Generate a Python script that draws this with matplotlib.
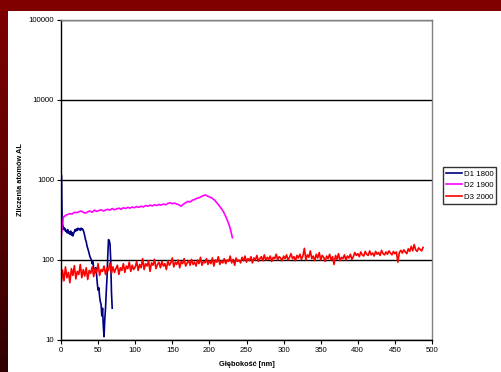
import numpy as np
import matplotlib
matplotlib.use("Agg")
import matplotlib.pyplot as plt
from matplotlib.patches import Rectangle
from matplotlib.colors import LinearSegmentedColormap

plt.rcParams['font.family'] = ['Liberation Sans', 'DejaVu Sans']

# ---------------- data ----------------
d1_depth = [0, 0.5, 1, 1.5, 2] + list(range(3, 70))
d1_counts = [200, 1150, 600, 350, 280,
             260, 240, 250, 230, 235, 220, 240, 215, 225, 210,
             230, 205, 220, 200, 215, 225, 240, 230, 245, 235,
             250, 240, 245, 235, 250, 240, 245, 235, 220, 200,
             180, 170, 150, 140, 130, 120, 110, 105, 100, 90,
             95, 80, 75, 70, 80, 65, 50, 42, 45, 35,
             30, 28, 20, 25, 15, 11, 18, 25, 40, 60,
             110, 180, 175, 160, 100, 40, 25]

d2_depth = list(range(0, 232, 3))
d2_counts = [180, 340, 360, 370, 380, 375, 395, 390, 400, 410, 395,
             385, 400, 410, 395, 420, 405, 415, 425, 410, 420,
             430, 420, 440, 425, 435, 445, 430, 450, 440, 455,
             445, 460, 450, 465, 455, 470, 460, 480, 470, 485,
             475, 490, 480, 495, 485, 500, 490, 510, 520, 505,
             515, 500, 490, 470, 500, 520, 540, 530, 560, 570,
             590, 600, 620, 640, 650, 625, 610, 590, 560, 520,
             480, 440, 400, 350, 300, 250, 190]

d3_depth = list(range(0, 489, 2))
d3_counts = [48, 75, 55, 82, 60, 70, 52, 78, 64, 85,
             58, 72, 66, 88, 60, 76, 63, 80, 57, 74,
             68, 82, 62, 78, 70, 90, 64, 76, 72, 84,
             66, 80, 74, 92, 68, 82, 70, 78, 86, 66,
             80, 74, 90, 70, 84, 78, 94, 72, 86, 76,
             82, 96, 74, 88, 80, 104, 76, 90, 84, 98,
             72, 92, 86, 102, 78, 88, 94, 80, 96, 84,
             90, 76, 98, 86, 92, 106, 82, 94, 88, 100,
             80, 96, 90, 104, 84, 92, 98, 86, 102, 88,
             94, 84, 100, 90, 108, 86, 96, 92, 104, 88,
             98, 90, 106, 84, 100, 94, 110, 88, 98, 92,
             104, 90, 100, 96, 112, 92, 102, 86, 106, 96,
             100, 92, 108, 98, 112, 94, 104, 98, 110, 92,
             106, 100, 114, 96, 104, 110, 98, 116, 100, 108,
             102, 112, 96, 108, 104, 118, 100, 110, 106, 98,
             112, 104, 116, 100, 108, 120, 104, 110, 98, 114,
             106, 118, 102, 112, 140, 100, 116, 108, 130, 104,
             112, 98, 118, 106, 124, 100, 114, 108, 96, 112,
             104, 118, 100, 110, 88, 114, 102, 120, 98, 108,
             104, 116, 100, 112, 106, 118, 102, 110, 124, 114,
             120, 110, 126, 116, 112, 128, 118, 114, 130, 116,
             122, 112, 128, 118, 124, 114, 132, 120, 116, 126,
             118, 130, 122, 116, 128, 120, 126, 94, 124, 132,
             122, 134, 126, 120, 138, 128, 148, 130, 156, 134,
             128, 142, 136, 130, 144]

series_names = ["D1 1800", "D2 1900", "D3 2000"]
series_colors = ["#000080", "#ff00ff", "#ff0000"]

y_ticks = [10, 100, 1000, 10000, 100000]
x_ticks = list(range(0, 501, 50))

# ---------------- figure ----------------
W, H = 501, 372
fig = plt.figure(figsize=(W / 100, H / 100), dpi=100)
fig.patch.set_facecolor("white")

# slide background bands
bg = fig.add_axes([0, 0, 1, 1], zorder=-10)
bg.set_xlim(0, W)
bg.set_ylim(H, 0)
bg.axis("off")
grad = np.linspace(0, 1, 256).reshape(-1, 1)
cmap = LinearSegmentedColormap.from_list("bord", ["#800000", "#600000", "#300000"])
bg.imshow(grad, cmap=cmap, extent=[0, 8, H, 0], aspect="auto")
bg.add_patch(Rectangle((0, 0), W, 11, color="#800000", lw=0))

ax = fig.add_axes([61 / W, 1 - 340 / H, (432 - 61) / W, (340 - 20) / H])
ax.set_facecolor("white")

for xs, ys, name, c in zip([d1_depth, d2_depth, d3_depth],
                           [d1_counts, d2_counts, d3_counts],
                           series_names, series_colors):
    ax.plot(xs, ys, color=c, lw=1.2, label=name)

ax.set_yscale("log")
ax.set_ylim(10, 100000)
ax.set_xlim(0, 500)
ax.set_yticks(y_ticks)
ax.set_yticklabels([str(v) for v in y_ticks])
ax.yaxis.set_minor_locator(matplotlib.ticker.NullLocator())
ax.set_xticks(x_ticks)
ax.set_xticklabels([str(v) for v in x_ticks])
ax.tick_params(axis="both", labelsize=5.6, length=3, width=0.8, color="black", pad=2)

ax.grid(True, axis="y", which="major", color="black", lw=1.0)
ax.set_axisbelow(True)
for s in ["left", "bottom"]:
    ax.spines[s].set_color("black")
    ax.spines[s].set_linewidth(1.0)
for s in ["top", "right"]:
    ax.spines[s].set_color("#808080")
    ax.spines[s].set_linewidth(1.0)

ax.set_xlabel("Głębokość [nm]", fontsize=5.3, fontweight="bold", labelpad=5)
ax.set_ylabel("Zliczenia atomów AL", fontsize=5.3, fontweight="bold", labelpad=3)

leg = ax.legend(loc="center left", bbox_to_anchor=(443 / W, 1 - 185.5 / H),
                bbox_transform=fig.transFigure, fontsize=5.7, frameon=True,
                fancybox=False, edgecolor="black", handlelength=2.0,
                borderpad=0.35, labelspacing=0.5, handletextpad=0.3,
                borderaxespad=0)
leg.get_frame().set_linewidth(1.0)

fig.savefig("out.png", dpi=100)
